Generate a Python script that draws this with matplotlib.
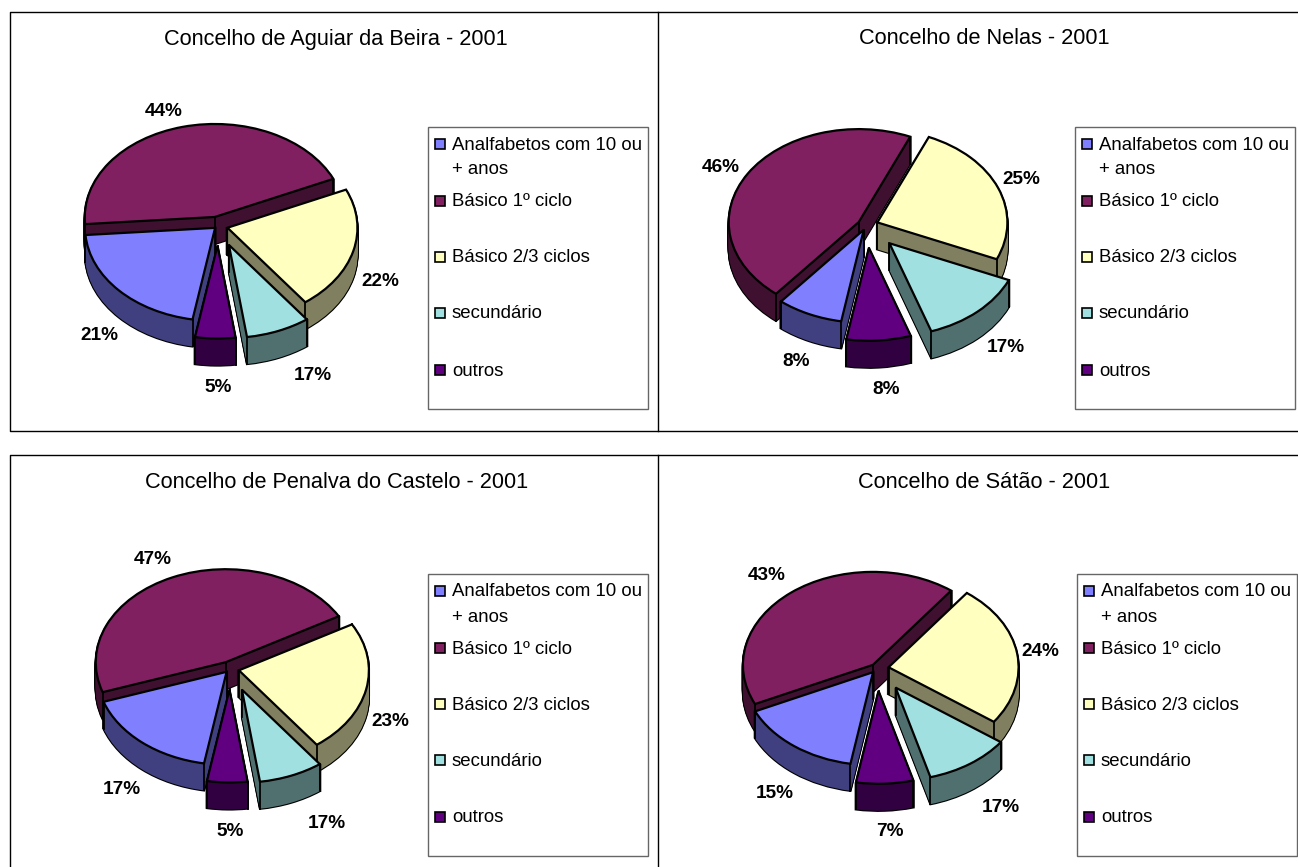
import numpy as np
import matplotlib
matplotlib.use('Agg')
import matplotlib.pyplot as plt
from matplotlib.patches import Rectangle
from matplotlib.colors import to_rgb

W = 1298
H = 867
plt.rcParams['font.family'] = ['Liberation Sans', 'DejaVu Sans']

titles = ['Concelho de Aguiar da Beira - 2001', 'Concelho de Nelas - 2001',
          'Concelho de Penalva do Castelo - 2001', 'Concelho de Sátão - 2001']
categories = ['Analfabetos com 10 ou\n+ anos', 'Básico 1º ciclo', 'Básico 2/3 ciclos', 'secundário', 'outros']

# slice sizes as drawn (the printed labels of the source do not add up to 100)
aguiar_sizes = [21, 44.5, 21.5, 8, 5]
nelas_sizes = [8.2, 45.5, 25, 13.3, 8]
penalva_sizes = [17, 47, 23, 8, 5]
satao_sizes = [15.3, 42.2, 24.7, 10.7, 7.1]

aguiar_labels = [21, 44, 22, 17, 5]
nelas_labels = [8, 46, 25, 17, 8]
penalva_labels = [17, 47, 23, 17, 5]
satao_labels = [15, 43, 24, 17, 7]

colors = ['#8080FF', '#802060', '#FFFFC0', '#A0E0E0', '#600080']

# layout, pixels
centers = [(218, 226), (866.5, 225.5), (230, 669), (877, 668.5)]
explodes = [[0.03, 0.10, 0.075, 0.22, 0.21],
            [0.05, 0.07, 0.09, 0.26, 0.24],
            [0.04, 0.08, 0.07, 0.24, 0.22],
            [0.05, 0.05, 0.09, 0.25, 0.24]]
label_xy = [[(99, 335), (164, 112), (380, 282), (313, 376), (218, 388)],
            [(796, 361), (721, 167), (1021, 179), (1006, 347), (886, 389)],
            [(122, 789), (153, 559), (390, 721), (327, 823), (230, 832)],
            [(775, 794), (767, 576), (1040, 651), (1001, 808), (890, 832)]]
title_xy = [(336, 39), (984.5, 39), (336.5, 482), (984, 482)]
legend_boxes = [(428, 127), (1075, 127), (428, 574), (1077, 574)]
legend_offsets = [16, 73, 129, 185, 242]
rx = 130
ry = 93
depth = 27
start = 90 - 190
paint_order = [1, 2, 0, 3, 4]


def draw_pie(fig, center, sizes, explode):
    cx, cy = center
    m = 1.7
    ax = fig.add_axes([(cx - m * rx) / W, 1 - (cy + m * ry) / H, 2 * m * rx / W, 2 * m * ry / H])
    ax.patch.set_alpha(0)
    dark = [tuple(c * 0.5 for c in to_rgb(col)) for col in colors]
    z = {s: 10 + 10 * i for i, s in enumerate(paint_order)}

    for d in range(depth, 0, -1):
        for col, zo, ed in (('black', 0, 1.6), (None, 1, 0)):
            wedges, _ = ax.pie(sizes, explode=explode, startangle=start, counterclock=False,
                               center=(0, -d / ry), normalize=True)
            for s, w in enumerate(wedges):
                w.set_facecolor(col if col else dark[s])
                w.set_edgecolor('black' if col else dark[s])
                w.set_linewidth(ed)
                w.set_zorder(z[s] + zo)

    wedges, _ = ax.pie(sizes, explode=explode, startangle=start, counterclock=False, normalize=True)
    for s, w in enumerate(wedges):
        w.set_facecolor(colors[s])
        w.set_edgecolor('black')
        w.set_linewidth(1.6)
        w.set_zorder(z[s] + 3)
        x0, y0 = w.center
        corners = [(x0, y0)]
        for a in (w.theta1, w.theta2):
            corners.append((x0 + np.cos(np.radians(a)), y0 + np.sin(np.radians(a))))
        for x, y in corners:
            ax.plot([x, x], [y, y - depth / ry], color='black', lw=1.3, zorder=z[s] + 2)

    ax.set_aspect('auto')
    ax.set_xlim(-m, m)
    ax.set_ylim(-m, m)
    ax.axis('off')


fig = plt.figure(figsize=(W / 100, H / 100), dpi=100)
bg = fig.add_axes([0, 0, 1, 1])
bg.set_xlim(0, W)
bg.set_ylim(H, 0)
bg.axis('off')

for y0, y1 in ((12, 431), (455, 868)):
    bg.plot([W, 10, 10, W], [y0, y0, y1, y1], color='black', lw=1)
    bg.plot([658, 658], [y0, y1], color='black', lw=1)

all_sizes = [aguiar_sizes, nelas_sizes, penalva_sizes, satao_sizes]
all_labels = [aguiar_labels, nelas_labels, penalva_labels, satao_labels]

for i in range(4):
    draw_pie(fig, centers[i], all_sizes[i], explodes[i])
    bg.text(title_xy[i][0], title_xy[i][1], titles[i], ha='center', va='center', fontsize=15.7)

    bx, by = legend_boxes[i]
    bg.add_patch(Rectangle((bx, by), 220, 282, fc='white', ec='#666666', lw=1))
    for name, col, off in zip(categories, colors, legend_offsets):
        bg.add_patch(Rectangle((bx + 7, by + off - 4.5), 10, 10, fc=col, ec='black', lw=1.2))
        first = name.split('\n')
        bg.text(bx + 24, by + off + 6.5, first[0], va='baseline', fontsize=13.45)
        if len(first) > 1:
            bg.text(bx + 24, by + off + 31.5, first[1], va='baseline', fontsize=13.45)

# labels go on top of the pies
top = fig.add_axes([0, 0, 1, 1])
top.set_xlim(0, W)
top.set_ylim(H, 0)
top.axis('off')
for i in range(4):
    for v, (x, y) in zip(all_labels[i], label_xy[i]):
        top.text(x, y, f'{v}%', ha='center', va='center', fontsize=13.7, fontweight='bold')

fig.savefig('out.png', dpi=100)
